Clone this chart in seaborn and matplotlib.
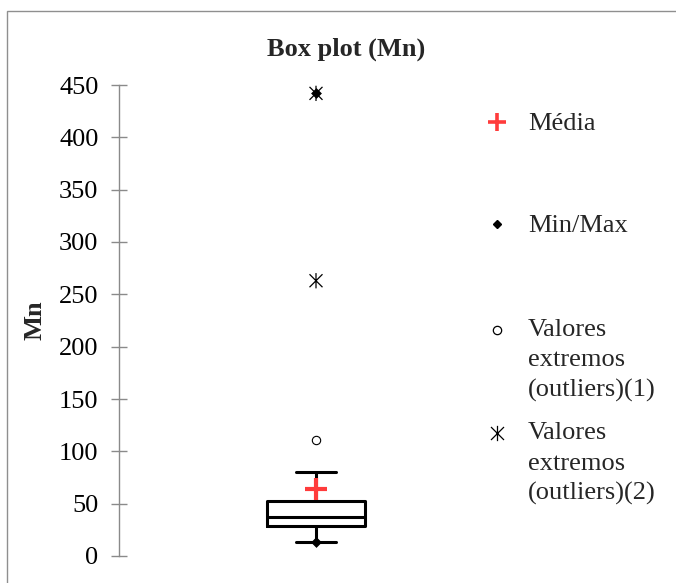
import matplotlib
matplotlib.use("Agg")
import matplotlib.pyplot as plt
from matplotlib.lines import Line2D
from matplotlib.patches import Rectangle
from matplotlib.path import Path
import seaborn as sns

# Summary statistics of the Mn box plot
variable = "Mn"
q1, median, q3 = 28.7, 37.0, 52.5
whisker_low, whisker_high = 13.0, 80.0
mean_value = 64.0
min_max = [13.0, 442.0]
outliers_1 = [111.0]
outliers_2 = [263.0, 442.0]
y_ticks = [0, 50, 100, 150, 200, 250, 300, 350, 400, 450]
legend_labels = ["Média", "Min/Max",
                 "Valores\nextremos\n(outliers)(1)",
                 "Valores\nextremos\n(outliers)(2)"]

sns.set_theme(style="white")
plt.rcParams["font.family"] = ["Liberation Serif", "DejaVu Serif"]

W, H = 676, 583
fig = plt.figure(figsize=(W / 100, H / 100), dpi=100)


def fx(px):
    return px / W


def fy(py):
    return 1 - py / H


# chart frame
fig.add_artist(Rectangle((fx(7), -0.1), 1.2, fy(11.5) + 0.1, transform=fig.transFigure,
                         fill=False, edgecolor="#8f8f8f", linewidth=1.0))

ax = fig.add_axes([fx(119), fy(556), fx(513) - fx(119), (556 - 85) / H])

# asterisk marker: vertical bar plus diagonal cross
star = Path([(0, -1), (0, 1), (-0.85, -0.85), (0.85, 0.85), (-0.85, 0.85), (0.85, -0.85)],
            [Path.MOVETO, Path.LINETO, Path.MOVETO, Path.LINETO, Path.MOVETO, Path.LINETO])

stats = [dict(label=variable, q1=q1, med=median, q3=q3,
              whislo=whisker_low, whishi=whisker_high, mean=mean_value, fliers=[])]
line = dict(color="black", linewidth=2.2)
ax.bxp(stats, positions=[0], widths=0.5, capwidths=[0.2], showfliers=False,
       showmeans=False, boxprops=line, medianprops=line, whiskerprops=line,
       capprops=line, manage_ticks=False)

sns.scatterplot(x=[0] * len(outliers_2), y=outliers_2, marker=star, s=11 ** 2,
                facecolor="none", edgecolor="black", linewidth=0.9, ax=ax, zorder=5)
sns.scatterplot(x=[0] * len(outliers_1), y=outliers_1, marker="o", s=6 ** 2,
                facecolor="white", edgecolor="black", linewidth=0.8, ax=ax, zorder=5)
sns.scatterplot(x=[0], y=[mean_value], marker="+", s=16 ** 2, color="#ff3b3b",
                linewidth=3.0, ax=ax, zorder=6)
sns.scatterplot(x=[0] * len(min_max), y=min_max, marker="D", s=5 ** 2,
                color="black", edgecolor="black", linewidth=0.5, ax=ax, zorder=7)

ax.set_xlim(-1, 1)
ax.set_ylim(0, 450)
ax.set_yticks(y_ticks)
ax.set_xticks([])
for side in ["top", "right", "bottom"]:
    ax.spines[side].set_visible(False)
ax.spines["left"].set_color("#8a8a8a")
ax.spines["left"].set_linewidth(1.0)
ax.tick_params(axis="y", direction="inout", length=11.5, width=1.0, color="#8a8a8a",
               labelsize=19, labelcolor="black", pad=9, left=True)
ax.set_ylabel("")
ax.patch.set_alpha(0)

fig.text(fx(35), fy(320), variable, rotation=90, ha="center", va="center",
         fontsize=19, fontweight="bold")
fig.text(fx(346.5), fy(56), "Box plot (Mn)", ha="center", va="baseline",
         fontsize=19, fontweight="bold")

# legend entries, marker beside the first line of each label
legend_markers = [
    dict(marker="+", markersize=13, color="#ff3b3b", markeredgewidth=2.6),
    dict(marker="D", markersize=4.5, color="black"),
    dict(marker="o", markersize=6, markerfacecolor="white", markeredgecolor="black",
         markeredgewidth=0.9),
    dict(marker=star, markersize=11, markerfacecolor="none", markeredgecolor="black",
         markeredgewidth=0.9),
]
marker_y = [121.7, 224.3, 330, 433]
text_baseline = [129.5, 231.7, 336, 439]
line_step = 30.5
for lab, mk, my, by in zip(legend_labels, legend_markers, marker_y, text_baseline):
    fig.add_artist(Line2D([fx(496.5)], [fy(my)], transform=fig.transFigure,
                          linestyle="none", **mk))
    for i, part in enumerate(lab.split("\n")):
        fig.text(fx(528), fy(by + i * line_step), part, ha="left", va="baseline",
                 fontsize=19)

fig.savefig("out.png", dpi=100)
